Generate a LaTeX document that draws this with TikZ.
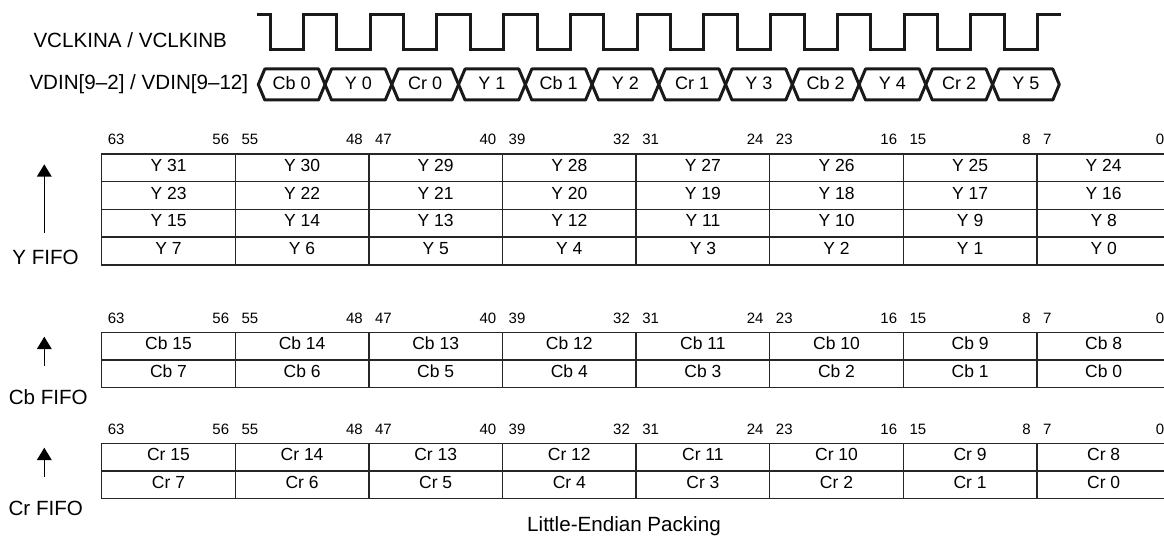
\documentclass[tikz,border=0pt]{standalone}
\usepackage{fontspec}
\setmainfont{Liberation Sans}
\usetikzlibrary{arrows.meta,positioning}

\begin{document}
\begin{tikzpicture}[
		x=1pt, y=-1pt,
		cell/.style={rectangle, draw=black!85, line width=1.5pt, minimum width=133.6pt, minimum height=27.7pt, inner sep=0pt, outer sep=0pt, anchor=north west, font=\fontsize{17.5}{20}\selectfont, text height=12.5pt, text depth=5pt},
		bit/.style={inner sep=0pt, font=\fontsize{15}{18}\selectfont},
		lbl/.style={inner sep=0pt, anchor=base, font=\fontsize{20.6}{24}\selectfont},
		bustxt/.style={inner sep=0pt, anchor=base, font=\fontsize{18}{20}\selectfont},
		wave/.style={line width=3pt, black!90},
		bus/.style={line width=3pt, black!90, line join=round},
		fifo/.style={-{Triangle[width=14.6pt,length=12.4pt]}, line width=1.6pt}
	]
	\useasboundingbox (0,0) rectangle (1164,537);

	% clock and data bus
	\node[lbl, anchor=base west] (clk) at (33.3,47.7) {VCLKINA / VCLKINB};
	\node[lbl, anchor=base west] (vdin) at (29.3,89.3) {VDIN[9–2] / VDIN[9–12]};
	\draw[wave] (256.7,14.3) \foreach \k in {0,...,11} { -| (270+66.75*\k,49.3) -| (303.4+66.75*\k,14.3) } -- (1060.7,14.3);
	\foreach \w [count=\k from 0] in {Cb 0, Y 0, Cr 0, Y 1, Cb 1, Y 2, Cr 1, Y 3, Cb 2, Y 4, Cr 2, Y 5} {
		\pgfmathsetmacro{\xa}{258.3+66.75*\k}
		\pgfmathsetmacro{\xb}{\xa+66.75}
		\draw[bus] (\xa,84.5) -- (\xa+6.5,69) -- (\xb-6.5,69) -- (\xb,84.5) -- (\xb-6.5,100) -- (\xa+6.5,100) -- cycle;
		\node[bustxt] (d\k) at (\xa+33.4,89.5) {\w};
	}

	% bit numbers over the three fifos
	\foreach \t/\tb in {154/y, 332.3/cb, 443.3/cr} {
		\foreach \c in {0,...,7} {
			\pgfmathtruncatemacro{\hi}{63-8*\c}
			\pgfmathtruncatemacro{\lo}{56-8*\c}
			\node[bit, anchor=base west] (\tb hi\c) at (101.7+133.6*\c+6,\t-9.3) {\hi};
			\node[bit, anchor=base east] (\tb lo\c) at (101.7+133.6*\c+133.6-6,\t-9.3) {\lo};
		}
	}

	% Y fifo
	\foreach \r in {0,...,3} {
		\foreach \c in {0,...,7} {
			\pgfmathtruncatemacro{\n}{8*(3-\r)+7-\c}
			\node[cell] (y\r\c) at (101.7+133.6*\c,154+27.7*\r) {Y \n};
		}
	}
	% Cb and Cr fifos
	\foreach \t/\tb/\nm in {332.3/cb/Cb, 443.3/cr/Cr} {
		\foreach \r in {0,1} {
			\foreach \c in {0,...,7} {
				\pgfmathtruncatemacro{\n}{8*(1-\r)+7-\c}
				\node[cell] (\tb\r\c) at (101.7+133.6*\c,\t+27.7*\r) {\nm\ \n};
			}
		}
	}

	\node[lbl] (yfifo) at (45.5,265) {Y FIFO};
	\node[lbl] (cbfifo) at (48.3,404) {Cb FIFO};
	\node[lbl] (crfifo) at (45.8,515) {Cr FIFO};
	\node[lbl] (packing) at (624,531) {Little-Endian Packing};

	\coordinate (ybot) at (44.3,232.7);
	\coordinate (ytop) at (44.3,164.3);
	\coordinate (cbbot) at (44.3,365.7);
	\coordinate (cbtop) at (44.3,336.7);
	\coordinate (crbot) at (44.3,476.7);
	\coordinate (crtop) at (44.3,447.7);
	\draw[fifo] (ybot) -- (ytop);
	\draw[fifo] (cbbot) -- (cbtop);
	\draw[fifo] (crbot) -- (crtop);
\end{tikzpicture}
\end{document}
